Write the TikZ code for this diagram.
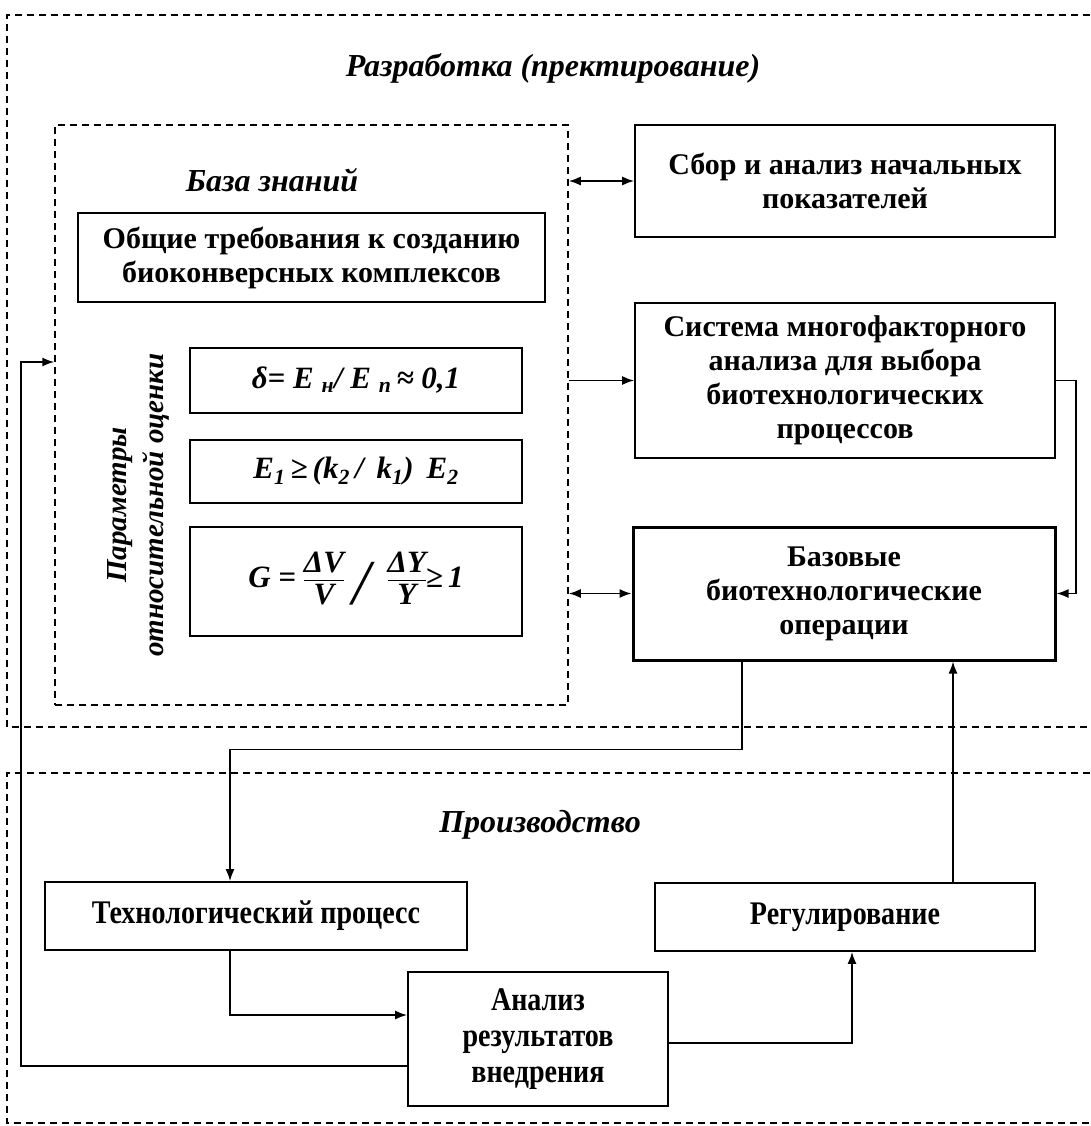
\documentclass[tikz,border=0pt]{standalone}
\usepackage{fontspec}
\setmainfont{Liberation Serif}
\newfontfamily\narrowfont[FakeStretch=0.85]{Liberation Serif}
\usetikzlibrary{arrows.meta}

\newcommand{\fr}[2]{\begin{tabular}{@{}c@{}}#1\\[-3pt]\hline #2\end{tabular}}

\tikzset{
  box/.style={draw, line width=1.8pt, align=center, inner sep=2pt,
    font=\bfseries\fontsize{30}{34}\selectfont},
  formula/.style={box, font=\bfseries\itshape\fontsize{31}{34}\selectfont},
  lowbox/.style={box, font=\narrowfont\bfseries\fontsize{33}{36}\selectfont},
  frame/.style={dash pattern=on 7pt off 5pt, line width=1.5pt},
  heading/.style={font=\bfseries\itshape\fontsize{32}{37}\selectfont},
  link/.style={line width=1.6pt},
  arr/.style={link, -{Latex[length=12pt,width=9pt]}},
  darr/.style={link, {Latex[length=12pt,width=9pt]}-{Latex[length=12pt,width=9pt]}}
}

\begin{document}
\begin{tikzpicture}[x=1pt, y=-1pt]
  \useasboundingbox (0,0) rectangle (1090,1126);

  % Draw dashed frames
  \draw[frame] (1090,15) -- (7,15) -- (7,727) -- (1090,727);
  \draw[frame] (1090,773) -- (7,773) -- (7,1123) -- (1090,1123);
  \node[draw, frame, inner sep=0, minimum width=513, minimum height=580] (kb) at (311.5,415) {};

  % Headings
  \node[heading] (dev) at (553,68) {Разработка (пректирование)};
  \node[heading] (prod) at (540,825) {Производство};
  \node[heading] (kbtitle) at (272,180) {База знаний};
  \node[heading, font=\bfseries\itshape\fontsize{29}{37}\selectfont, rotate=90, align=center] (par) at (138,505)
    {Параметры\\относительной оценки};

  % Knowledge base boxes
  \node[box, minimum width=467, minimum height=89] (req) at (311.5,257.5)
    {Общие требования к созданию\\биоконверсных комплексов};
  \node[formula, minimum width=332, minimum height=65] (delta) at (356,380.5)
    {δ= E \textsubscript{н}/ E \textsubscript{п}\,≈ 0,1};
  \node[formula, minimum width=332, minimum height=63] (ineq) at (356,471.5)
    {E\textsubscript{1}\,≥\,(k\textsubscript{2}\,/\, k\textsubscript{1})\, E\textsubscript{2}};
  \node[formula, minimum width=332, minimum height=109] (gain) at (356,581.5)
    {G = \fr{ΔV}{V}\;\raisebox{-17pt}{\mdseries\fontsize{64}{64}\selectfont /}\;\;\fr{ΔY}{Y}≥\,1};

  % Right column
  \node[box, minimum width=420, minimum height=112] (sbor) at (845,181)
    {Сбор и анализ начальных\\показателей};
  \node[box, minimum width=420, minimum height=155] (sys) at (845,380.5)
    {Система многофакторного\\анализа для выбора\\биотехнологических\\процессов};
  \node[box, line width=3pt, minimum width=422, minimum height=133] (base) at (844,593.5)
    {Базовые\\биотехнологические\\операции};

  % Production boxes
  \node[lowbox, minimum width=422, minimum height=68] (tech) at (256,916) {Технологический процесс};
  \node[lowbox, minimum width=380, minimum height=68] (reg) at (845,917) {Регулирование};
  \node[lowbox, minimum width=260, minimum height=134] (res) at (538,1039)
    {Анализ\\результатов\\внедрения};

  % Connectors
  \draw[darr] (kb.east |- sbor) -- (sbor.west);
  \draw[arr] (kb.east |- sys) -- (sys.west);
  \draw[darr] (kb.east |- base) -- (base.west);
  \draw[arr] (sys.east) -- ++(20,0) |- (base.east);
  \draw[arr] ([xshift=-102pt]base.south) -- ++(0,88) -| ([xshift=-26pt]tech.north);
  \draw[arr] ([xshift=108pt]reg.north) -- ([xshift=108pt]reg.north |- base.south);
  \draw[arr] ([xshift=-26pt]tech.south) |- ([yshift=24pt]res.west);
  \draw[arr] ([yshift=-4pt]res.east) -| ([xshift=7pt]reg.south);
  \draw[arr] ([yshift=-27pt]res.west) -- ++(-386,0) |- ([yshift=53pt]kb.west);
\end{tikzpicture}
\end{document}
